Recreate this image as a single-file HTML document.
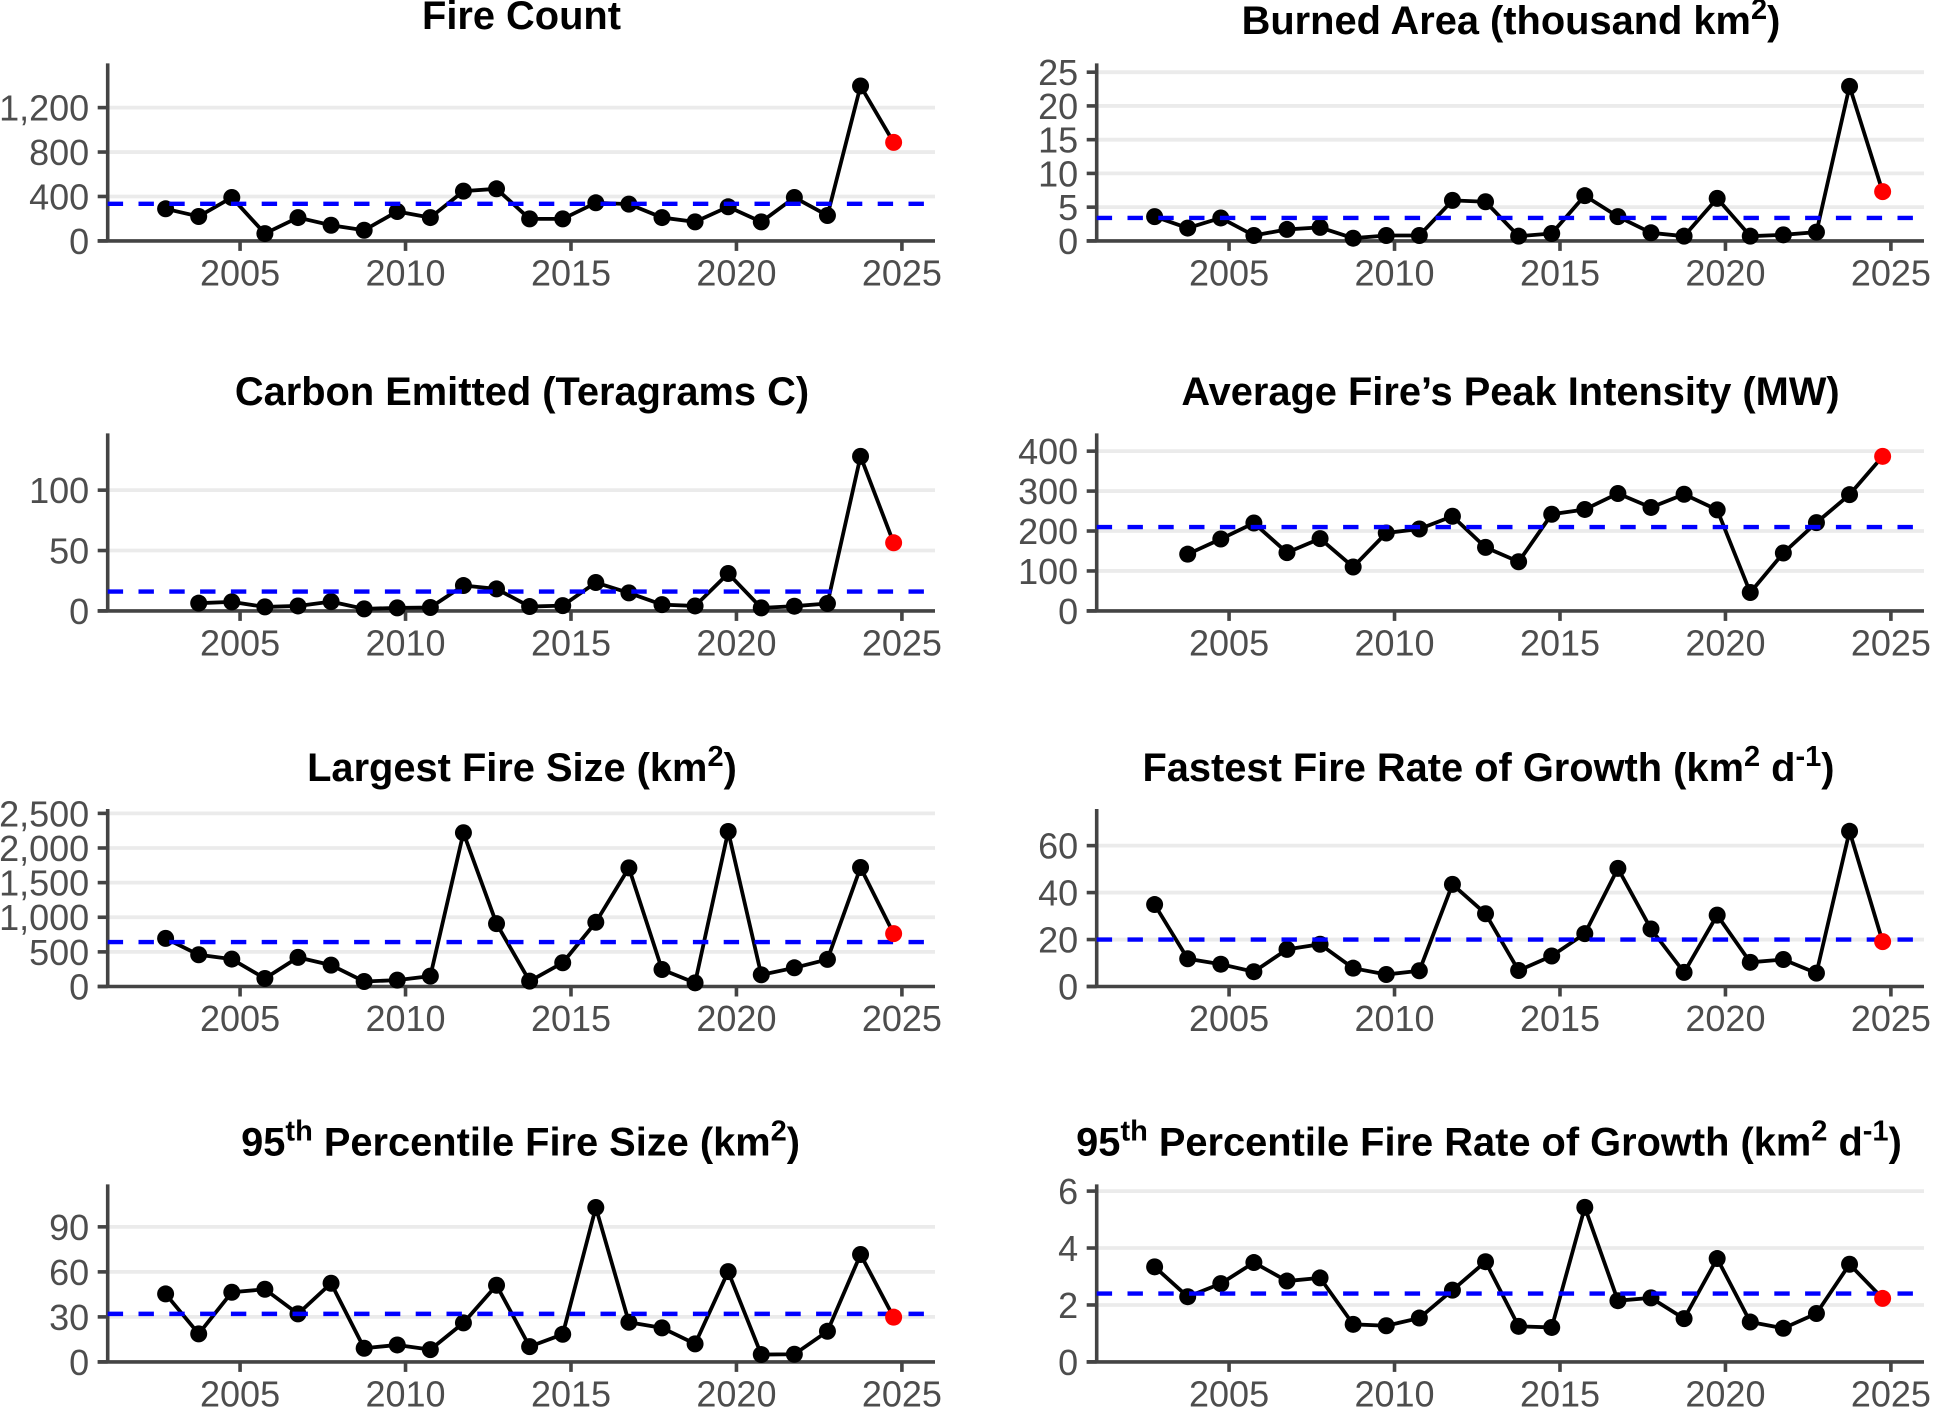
<!DOCTYPE html>
<html lang="en">
<head>
<meta charset="utf-8">
<title>Fire metrics by year</title>
<style>
html,body{margin:0;padding:0;background:#fff;}
svg{display:block;}
text{font-family:"Liberation Sans",Arial,sans-serif;}
.title{font-size:39.8px;font-weight:bold;fill:#000;text-anchor:middle;}
.tick{font-size:36px;fill:#4d4d4d;}
</style>
</head>
<body>
<svg id="fig" xmlns="http://www.w3.org/2000/svg" width="1947" height="1407" viewBox="0 0 1947 1407">
  <rect x="0" y="0" width="1947" height="1407" fill="#fff"/>
  <text class="title" x="521.5" y="29">Fire Count</text>
  <text class="title" x="1511" y="34">Burned Area (thousand km<tspan dy="-15" font-size="29">2</tspan><tspan dy="15">)</tspan></text>
  <text class="title" x="522" y="405">Carbon Emitted (Teragrams C)</text>
  <text class="title" x="1510.5" y="405">Average Fire’s Peak Intensity (MW)</text>
  <text class="title" x="522" y="781">Largest Fire Size (km<tspan dy="-15" font-size="29">2</tspan><tspan dy="15">)</tspan></text>
  <text class="title" x="1488.5" y="781">Fastest Fire Rate of Growth (km<tspan dy="-15" font-size="29">2</tspan><tspan dy="15"> d</tspan><tspan dy="-15" font-size="29">-1</tspan><tspan dy="15">)</tspan></text>
  <text class="title" x="520.6" y="1155.5">95<tspan dy="-15" font-size="29">th</tspan><tspan dy="15"> Percentile Fire Size (km</tspan><tspan dy="-15" font-size="29">2</tspan><tspan dy="15">)</tspan></text>
  <text class="title" x="1489" y="1155.5">95<tspan dy="-15" font-size="29">th</tspan><tspan dy="15"> Percentile Fire Rate of Growth (km</tspan><tspan dy="-15" font-size="29">2</tspan><tspan dy="15"> d</tspan><tspan dy="-15" font-size="29">-1</tspan><tspan dy="15">)</tspan></text>
</svg>
<script>
// ---- data ----
const years = [2003,2004,2005,2006,2007,2008,2009,2010,2011,2012,2013,2014,2015,2016,2017,2018,2019,2020,2021,2022,2023,2024,2025];
const xTickValues = [2005,2010,2015,2020,2025];

const fireCount = [289,220,391,66,210,141,96,265,210,448,469,198,198,343,331,210,171,307,171,391,229,1395,887];
const burnedArea = [3.6,1.9,3.4,0.8,1.7,2.0,0.4,0.8,0.8,6.0,5.8,0.7,1.1,6.7,3.6,1.2,0.7,6.3,0.7,0.9,1.3,22.9,7.3];
const carbonEmitted = [null,6.4,7.5,3.3,4.1,7.7,1.7,2.5,2.8,21,18.2,3.6,4.4,23.5,14.9,5.2,4.1,31,2.5,3.9,6.1,128,56.4];
const peakIntensity = [null,142,180,220,146,181,110,195,205,237,159,123,242,254,294,259,292,253,46,145,221,291,387];
const largestFire = [695,458,396,116,420,309,72,92,150,2220,907,77,343,927,1713,246,53,2239,169,270,391,1718,763];
const fastestGrowth = [34.9,11.8,9.5,6.3,15.8,18,7.8,5.1,6.7,43.5,31,6.8,13,22.5,50.3,24.5,6,30.4,10.3,11.5,5.7,66.1,19.1];
const p95FireSize = [45.3,18.7,46.4,48.4,32,52.4,9.1,11.3,8.2,26,51.1,10.2,18.4,102.9,26.4,22.7,12,60.2,4.9,5.1,20.4,71.6,29.8];
const p95Growth = [3.34,2.29,2.75,3.49,2.84,2.95,1.32,1.27,1.54,2.52,3.52,1.25,1.21,5.43,2.15,2.25,1.52,3.63,1.4,1.18,1.7,3.43,2.23];

const fireCountTicks = [0,400,800,1200];
const burnedAreaTicks = [0,5,10,15,20,25];
const carbonTicks = [0,50,100];
const intensityTicks = [0,100,200,300,400];
const largestFireTicks = [0,500,1000,1500,2000,2500];
const fastestGrowthTicks = [0,20,40,60];
const p95FireSizeTicks = [0,30,60,90];
const p95GrowthTicks = [0,2,4,6];

const fireCountMean = 334;
const burnedAreaMean = 3.4;
const carbonMean = 16;
const intensityMean = 210;
const largestFireMean = 642;
const fastestGrowthMean = 20;
const p95FireSizeMean = 32;
const p95GrowthMean = 2.4;

const fireCountTop = 1598;
const burnedAreaTop = 26.3;
const carbonTop = 147;
const intensityTop = 444.4;
const largestFireTop = 2563;
const fastestGrowthTop = 75.6;
const p95FireSizeTop = 118.3;
const p95GrowthTop = 6.235;

// ---- layout ----
const NS = 'http://www.w3.org/2000/svg';
const fig = document.getElementById('fig');
const PANEL_W = 827.3;
const PANEL_H = 177.5;
const X_MIN = 2001;
const X_MAX = 2026;
const YEAR_SHIFT = -0.25;
const LEFT_COL = 107.7;
const RIGHT_COL = 1096.7;
const ROW_1 = 240.9;
const ROW_2 = 610.9;
const ROW_3 = 986.5;
const ROW_4 = 1361.9;
const AXIS = '#444444';
const GRID = '#ebebeb';

function mk(tag, attrs, parent) {
  const el = document.createElementNS(NS, tag);
  for (const k in attrs) el.setAttribute(k, attrs[k]);
  parent.appendChild(el);
  return el;
}

function drawPanel(slug, left, bottom, values, ticks, mean, top) {
  const x = function (yr) { return left + (yr - X_MIN) / (X_MAX - X_MIN) * PANEL_W; };
  const y = function (v) { return bottom - v / top * PANEL_H; };
  const right = left + PANEL_W;

  const g = mk('g', {}, fig);
  
  

  // gridlines
  ticks.forEach(function (t) {
    if (t === 0) return;
    const grid = mk('line', { x1: left, x2: right, y1: y(t), y2: y(t), stroke: GRID, 'stroke-width': 3.8 }, g);
    
    
  });

  // axes
  const yAxis = mk('line', { x1: left, x2: left, y1: bottom - PANEL_H, y2: bottom, stroke: AXIS, 'stroke-width': 3.6 }, g);
  
  
  const xAxis = mk('line', { x1: left - 10, x2: right, y1: bottom, y2: bottom, stroke: AXIS, 'stroke-width': 3.6 }, g);
  
  

  // y ticks
  ticks.forEach(function (t) {
    const tick = mk('line', { x1: left - 10, x2: left, y1: y(t), y2: y(t), stroke: AXIS, 'stroke-width': 3.6 }, g);
    
    
    const label = mk('text', { class: 'tick', x: left - 18.5, y: y(t) + 13, 'text-anchor': 'end' }, g);
    
    
    label.textContent = t.toLocaleString('en-US');
  });

  // x ticks
  xTickValues.forEach(function (t) {
    const tick = mk('line', { x1: x(t), x2: x(t), y1: bottom, y2: bottom + 10, stroke: AXIS, 'stroke-width': 3.6 }, g);
    
    
    const label = mk('text', { class: 'tick', x: x(t), y: bottom + 44.5, 'text-anchor': 'middle' }, g);
    
    
    label.textContent = String(t);
  });

  // series line
  let d = '';
  values.forEach(function (v, i) {
    if (v === null) return;
    d += (d ? 'L' : 'M') + x(years[i] + YEAR_SHIFT).toFixed(2) + ' ' + y(v).toFixed(2);
  });
  const path = mk('path', { d: d, fill: 'none', stroke: '#000', 'stroke-width': 3.8, 'stroke-linejoin': 'round' }, g);
  
  

  // black points
  values.forEach(function (v, i) {
    if (v === null || i === values.length - 1) return;
    const pt = mk('circle', { cx: x(years[i] + YEAR_SHIFT), cy: y(v), r: 8.5, fill: '#000' }, g);
    
    
  });

  // mean line
  const meanLine = mk('line', { x1: left, x2: right, y1: y(mean), y2: y(mean), stroke: '#0000ff', 'stroke-width': 4.4, 'stroke-dasharray': '15.4 15.4' }, g);
  
  

  // highlighted latest point
  const n = values.length - 1;
  const red = mk('circle', { cx: x(years[n] + YEAR_SHIFT), cy: y(values[n]), r: 8.5, fill: '#ff0000' }, g);
  
  
}

drawPanel('fire-count', LEFT_COL, ROW_1, fireCount, fireCountTicks, fireCountMean, fireCountTop);
drawPanel('burned-area', RIGHT_COL, ROW_1, burnedArea, burnedAreaTicks, burnedAreaMean, burnedAreaTop);
drawPanel('carbon-emitted', LEFT_COL, ROW_2, carbonEmitted, carbonTicks, carbonMean, carbonTop);
drawPanel('peak-intensity', RIGHT_COL, ROW_2, peakIntensity, intensityTicks, intensityMean, intensityTop);
drawPanel('largest-fire-size', LEFT_COL, ROW_3, largestFire, largestFireTicks, largestFireMean, largestFireTop);
drawPanel('fastest-growth', RIGHT_COL, ROW_3, fastestGrowth, fastestGrowthTicks, fastestGrowthMean, fastestGrowthTop);
drawPanel('p95-fire-size', LEFT_COL, ROW_4, p95FireSize, p95FireSizeTicks, p95FireSizeMean, p95FireSizeTop);
drawPanel('p95-growth', RIGHT_COL, ROW_4, p95Growth, p95GrowthTicks, p95GrowthMean, p95GrowthTop);
</script>
</body>
</html>
